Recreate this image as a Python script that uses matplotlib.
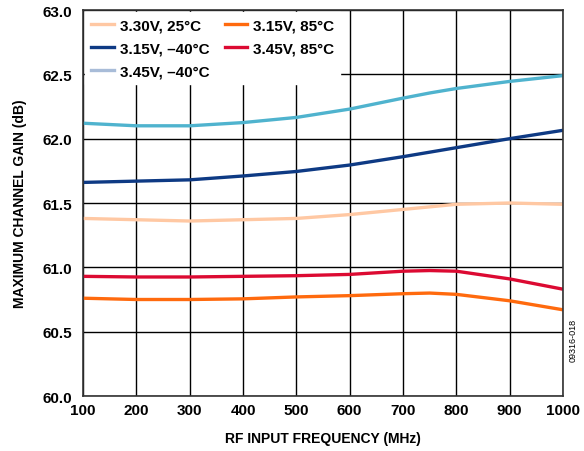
import matplotlib
matplotlib.use("Agg")
import matplotlib.pyplot as plt
from matplotlib.lines import Line2D
import numpy as np

plt.rcParams['font.family'] = ['Liberation Sans', 'DejaVu Sans']
plt.rcParams['font.weight'] = 'bold'

freq = [100, 200, 300, 400, 500, 600, 700, 750, 800, 900, 1000]
g_330_25 = [61.38, 61.37, 61.36, 61.37, 61.38, 61.41, 61.45, 61.47, 61.49, 61.50, 61.49]
g_315_m40 = [61.66, 61.67, 61.68, 61.71, 61.745, 61.795, 61.86, 61.895, 61.93, 62.00, 62.065]
g_345_m40 = [62.12, 62.10, 62.10, 62.125, 62.165, 62.23, 62.315, 62.355, 62.39, 62.445, 62.49]
g_315_85 = [60.76, 60.75, 60.75, 60.755, 60.77, 60.78, 60.795, 60.80, 60.79, 60.74, 60.67]
g_345_85 = [60.93, 60.925, 60.925, 60.93, 60.935, 60.945, 60.97, 60.975, 60.97, 60.91, 60.83]

labels = ["3.30V, 25°C", "3.15V, \u201340°C", "3.45V, \u201340°C", "3.15V, 85°C", "3.45V, 85°C"]
xticks = [100, 200, 300, 400, 500, 600, 700, 800, 900, 1000]
yticks = [60.0, 60.5, 61.0, 61.5, 62.0, 62.5, 63.0]

fig = plt.figure(figsize=(5.84, 4.52), dpi=100)
ax = fig.add_axes([83/584, 1-397/452, (563-83)/584, (397-11)/452])

ax.set_xlim(100, 1000)
ax.set_ylim(60.0, 63.0)
ax.set_xticks(xticks)
ax.set_yticks(yticks)
ax.set_yticklabels([f"{v:.1f}" for v in yticks])
ax.grid(True, color='black', linewidth=1.0)
ax.set_axisbelow(True)
ax.tick_params(axis='y', length=0, labelsize=11, pad=8)
ax.tick_params(axis='x', length=0, labelsize=11, pad=5)
for lab in ax.get_xticklabels() + ax.get_yticklabels():
    lab.set_fontweight('bold')
for s in ax.spines.values():
    s.set_color('#333333')
    s.set_linewidth(1.2)

series = [g_330_25, g_315_m40, g_345_m40, g_315_85, g_345_85]
colors = ['#FFC8A3', '#0E3A84', '#4FB3CE', '#FF6A0E', '#DC0A32']
legend_colors = ['#FFC8A3', '#0E3A84', '#A8BCD8', '#FF6A0E', '#DC0A32']
for y, c in zip(series, colors):
    ax.plot(freq, y, color=c, linewidth=2.4, solid_capstyle='butt')

handles = [Line2D([0], [0], color=c, linewidth=2.4) for c in legend_colors]
leg = ax.legend(handles, labels,
                loc='upper left', ncol=2, frameon=True, fancybox=False,
                edgecolor='white', framealpha=1.0,
                handlelength=1.5, handletextpad=0.35, columnspacing=1.0,
                labelspacing=0.58, borderaxespad=0.15, borderpad=0.4,
                prop={'weight': 'bold', 'size': 11})

ax.set_xlabel("RF INPUT FREQUENCY (MHz)", fontsize=10, fontweight='bold', labelpad=10)
ax.set_ylabel("MAXIMUM CHANNEL GAIN (dB)", fontsize=10, fontweight='bold', labelpad=11)

fig.text(573/584, 1-340/452, "09316-018", rotation=90, fontsize=6.5,
         fontweight='normal', ha='center', va='center')

fig.savefig("out.png", dpi=100)
